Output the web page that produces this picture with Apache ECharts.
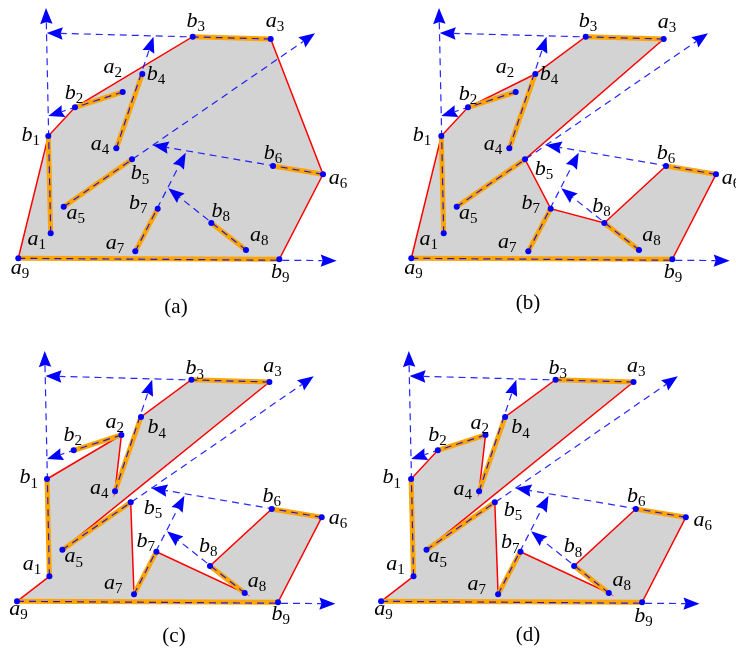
<!DOCTYPE html>
<html><head><meta charset="utf-8">
<script src="https://cdn.jsdelivr.net/npm/echarts@6/dist/echarts.min.js"></script>
<style>html,body{margin:0;padding:0;background:#fff}#c{width:736px;height:652px}</style>
</head><body><div id="c"></div>
<script>
// ---- data: point coordinates (local frame, x right, y up), same in all four panels
const names = ['a1','b1','a2','b2','a3','b3','a4','b4','a5','b5','a6','b6','a7','b7','a8','b8','a9','b9'];
const px = [50.7, 48.3, 122.7, 75, 270.7, 192.7, 116.3, 142.3, 63.7, 132, 323, 273, 135.3, 157.7, 246, 211.3, 18.3, 279.3];
const py = [36.7, 134, 178, 162.7, 231, 233.3, 121.7, 196, 63.3, 110.7, 95.7, 104, 18.7, 61.3, 20, 47, 11.7, 10.7];
// arrow tips of the dashed rays a_i -> b_i (i = 1..9)
const tipX = [46, 48.3, 46.7, 153.5, 315, 152.7, 185.7, 168.3, 336.7];
const tipY = [262, 154, 237, 233.3, 236.7, 125, 117.3, 81.7, 9.3];
// polygon vertex orders of the four panels
const polyA = ['a9','b1','b2','b3','a3','a6','b9'];
const polyB = ['a9','b1','b2','b4','b3','a3','b5','b7','b8','b6','a6','b9'];
const polyC = ['a9','a1','b1','a2','a4','b4','b3','a3','a5','b5','a7','b7','a8','b8','b6','a6','b9'];
const polyD = ['a9','a1','b1','b2','a2','a4','b4','b3','a3','a5','b5','a7','b7','a8','b8','b6','a6','b9'];
const captions = ['(a)','(b)','(c)','(d)'];

// ---- layout (pixel offsets of labels, per panel, in names order)
const labOff = [
  [[-14,10],[-17.6,1.3],[-10,-20],[-1,-12],[4.3,-13.3],[3,-13.4],[-16.3,0.7],[13.7,2],[12,10.6],[8,16.4],[15,8],[0,-11],[-20.3,-4],[-19.4,-3.7],[13.3,-10],[9.4,-9.7],[1.7,14.4],[1,14.7]],
  [[-15,10.7],[-19.4,1],[-10.7,-20],[0,-11.3],[3.4,-12.3],[2.3,-13.7],[-16.3,0],[13.7,2.4],[11.6,10.6],[19,11.7],[15,8],[0,-11],[-21,-4.4],[-20,-3.7],[12.4,-10],[-2.7,-14.7],[2.3,14],[0.6,15]],
  [[-17.3,-7.7],[-18.3,0.7],[-6.7,-8.3],[-1,-13.3],[3,-11],[3.4,-9],[-15.7,1.3],[15.7,12.7],[11.3,11.4],[22.4,7.7],[16.3,5.4],[0,-10.7],[-20.7,-6.7],[-10.6,-8.7],[12.3,-7],[-1.7,-17.7],[1.6,12.3],[2.7,14]],
  [[-18,-7.7],[-19.4,0.7],[-5.7,-7.7],[-0.4,-13.3],[2.7,-11],[2.3,-9.3],[-16.3,2.3],[15.4,12.7],[11.3,11.4],[18.3,10],[17,7],[0.4,-10.7],[-21.4,-5.3],[-10.3,-7],[13,-8.7],[-1,-17.4],[2.3,12.3],[1.3,15.6]]
];
const polys = [polyA, polyB, polyC, polyD];
const gridLeft = [10, 403, 8.7, 372.8], gridTop = [0, 0, 343, 343];
const capPos = [[176,307],[528,303],[174,636],[528,635]];

const idx = {}; names.forEach((n,i) => idx[n] = i);
const segRows = [], rayRows = [];
for (let k = 1; k <= 9; k++) {
  const a = idx['a'+k], b = idx['b'+k];
  segRows.push([px[a], py[a], px[b], py[b]]);
  rayRows.push([px[a], py[a], tipX[k-1], tipY[k-1]]);
}
const ptRows = names.map((n,i) => [px[i], py[i], i]);

const BLUE = '#0000ff';
const rich = {
  m: {fontFamily: 'Liberation Serif', fontStyle: 'italic', fontSize: 22, color: '#000', lineHeight: 22},
  s: {fontFamily: 'Liberation Serif', fontSize: 15, color: '#000', lineHeight: 15, padding: [12,0,0,0]}
};

const grids = [], xAxes = [], yAxes = [], series = [];
polys.forEach((poly, g) => {
  grids.push({left: gridLeft[g], top: gridTop[g], width: 330, height: 270});
  xAxes.push({type: 'value', gridIndex: g, min: 10, max: 340, show: false});
  yAxes.push({type: 'value', gridIndex: g, min: 0, max: 270, show: false});
  const base = {coordinateSystem: 'cartesian2d', xAxisIndex: g, yAxisIndex: g, silent: true, animation: false};
  // region
  series.push(Object.assign({}, base, {
    type: 'custom', z: 1, data: [[px[idx[poly[0]]], py[idx[poly[0]]]]],
    renderItem: (params, api) => ({
      type: 'polygon',
      shape: {points: poly.map(n => api.coord([px[idx[n]], py[idx[n]]]))},
      style: {fill: '#d3d3d3', stroke: '#ff0000', lineWidth: 1.5, lineJoin: 'miter'}
    })
  }));
  // orange segments a_i b_i
  series.push(Object.assign({}, base, {
    type: 'custom', z: 2, data: segRows,
    renderItem: (params, api) => {
      const p0 = api.coord([api.value(0), api.value(1)]);
      const p1 = api.coord([api.value(2), api.value(3)]);
      return {type: 'line', shape: {x1: p0[0], y1: p0[1], x2: p1[0], y2: p1[1]},
        style: {stroke: '#ffa500', lineWidth: 5, lineCap: 'round'}};
    }
  }));
  // dashed rays with arrowheads
  series.push(Object.assign({}, base, {
    type: 'custom', z: 3, data: rayRows,
    renderItem: (params, api) => {
      const p0 = api.coord([api.value(0), api.value(1)]);
      const p1 = api.coord([api.value(2), api.value(3)]);
      const dx = p1[0]-p0[0], dy = p1[1]-p0[1], L = Math.hypot(dx, dy);
      const ux = dx/L, uy = dy/L, nx = -uy, ny = ux;
      const AL = 16, AW = 6.2;
      const bx = p1[0]-ux*AL, by = p1[1]-uy*AL;
      return {type: 'group', children: [
        {type: 'line', shape: {x1: p0[0], y1: p0[1], x2: bx+ux*2, y2: by+uy*2},
          style: {stroke: BLUE, lineWidth: 1.2, lineDash: [7,5], opacity: 0.85}},
        {type: 'polygon', shape: {points: [[p1[0], p1[1]], [bx+nx*AW, by+ny*AW], [bx+ux*2, by+uy*2], [bx-nx*AW, by-ny*AW]]},
          style: {fill: BLUE}}
      ]};
    }
  }));
  // points
  series.push(Object.assign({}, base, {
    type: 'scatter', z: 4, data: ptRows.map(r => [r[0], r[1]]), symbolSize: 6, clip: false,
    itemStyle: {color: BLUE, opacity: 1}
  }));
  // labels
  series.push(Object.assign({}, base, {
    type: 'custom', z: 5, data: ptRows,
    renderItem: (params, api) => {
      const i = api.value(2);
      const c = api.coord([api.value(0), api.value(1)]);
      const nm = names[i], off = labOff[g][i];
      const corr = nm[0] === 'a' ? 4.5 : 2;
      return {type: 'text', x: c[0] + off[0], y: c[1] + off[1] - corr,
        style: {text: '{m|' + nm[0] + '}{s|' + nm.slice(1) + '}', rich: rich,
          align: 'center', verticalAlign: 'middle', textAlign: 'center', textVerticalAlign: 'middle'}};
    }
  }));
});

const graphic = captions.map((t, g) => ({
  type: 'text', x: capPos[g][0], y: capPos[g][1], silent: true,
  style: {text: t, fontFamily: 'Liberation Serif', fontSize: 21, fill: '#000',
    align: 'center', verticalAlign: 'middle', textAlign: 'center', textVerticalAlign: 'middle'}
}));

const chart = echarts.init(document.getElementById('c'));
chart.setOption({animation: false, grid: grids, xAxis: xAxes, yAxis: yAxes, series: series, graphic: graphic});
</script></body></html>
